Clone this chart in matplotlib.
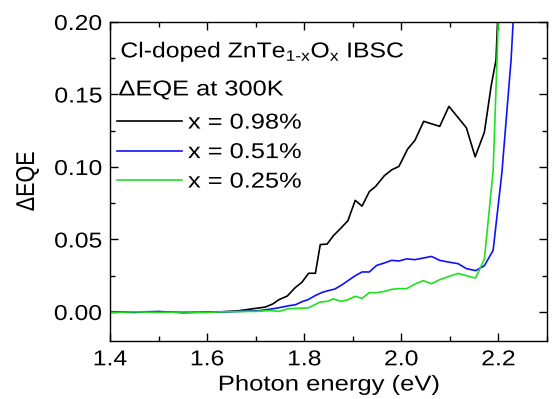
import matplotlib
matplotlib.use("Agg")
import matplotlib.pyplot as plt
import numpy as np
from matplotlib.ticker import MultipleLocator
from matplotlib.patheffects import AbstractPathEffect
from matplotlib.transforms import Affine2D

plt.rcParams['font.family'] = ['Liberation Sans', 'DejaVu Sans']
plt.rcParams['mathtext.fontset'] = 'custom'
plt.rcParams['mathtext.rm'] = 'Liberation Sans'
plt.rcParams['mathtext.it'] = 'Liberation Sans'

# photon energy (eV) and delta EQE
x_098 = [1.40, 1.45, 1.50, 1.55, 1.60, 1.63, 1.666, 1.70, 1.72, 1.735, 1.748, 1.765,
         1.782, 1.795, 1.809, 1.823, 1.833, 1.847, 1.860, 1.876, 1.890, 1.905,
         1.919, 1.934, 1.947, 1.965, 1.980, 1.995, 2.013, 2.028, 2.046, 2.079,
         2.098, 2.117, 2.134, 2.152, 2.171, 2.185, 2.195, 2.205]
y_098 = [0.0, -0.0003, 0.0002, -0.0004, -0.0002, 0.0001, 0.0009, 0.0025, 0.0034, 0.0055,
         0.0085, 0.011, 0.0170, 0.0204, 0.0267, 0.0267, 0.0465, 0.0468, 0.0526,
         0.058, 0.063, 0.077, 0.073, 0.083, 0.0866, 0.094, 0.098, 0.1004,
         0.1124, 0.1184, 0.1315, 0.128, 0.1418, 0.134, 0.127, 0.107, 0.124,
         0.156, 0.174, 0.26]

x_051 = [1.40, 1.45, 1.50, 1.55, 1.60, 1.65, 1.707, 1.741, 1.768, 1.782, 1.796,
         1.808, 1.823, 1.837, 1.850, 1.863, 1.878, 1.891, 1.905, 1.919, 1.934,
         1.949, 1.965, 1.980, 1.995, 2.011, 2.028, 2.045, 2.062, 2.079, 2.096,
         2.117, 2.134, 2.153, 2.171, 2.189, 2.207, 2.226, 2.24]
y_051 = [0.0002, 0.0, 0.0003, -0.0003, 0.0001, 0.0002, 0.0009, 0.0025, 0.0043, 0.0050,
         0.0072, 0.0085, 0.0114, 0.0135, 0.0148, 0.0158, 0.0188, 0.0218, 0.025,
         0.0276, 0.0276, 0.0321, 0.0338, 0.0356, 0.0352, 0.0366, 0.0361, 0.0372,
         0.0383, 0.0356, 0.0345, 0.0333, 0.0299, 0.0285, 0.0319, 0.0425, 0.0959,
         0.174, 0.26]

x_025 = [1.40, 1.45, 1.50, 1.55, 1.60, 1.65, 1.70, 1.73, 1.748, 1.768, 1.808,
         1.833, 1.847, 1.860, 1.876, 1.890, 1.905, 1.919, 1.934, 1.949, 1.965,
         1.980, 1.995, 2.011, 2.028, 2.045, 2.062, 2.079, 2.096, 2.117, 2.134,
         2.153, 2.171, 2.189, 2.197, 2.205]
y_025 = [-0.0004, 0.0001, -0.0003, 0.0, -0.0002, 0.0003, 0.0004, 0.0010, 0.0004, 0.0023,
         0.0028, 0.0069, 0.0073, 0.009, 0.0073, 0.0085, 0.0108, 0.0094, 0.0133,
         0.0133, 0.0142, 0.0156, 0.0161, 0.0161, 0.0193, 0.0216, 0.0195, 0.0223,
         0.0243, 0.0266, 0.025, 0.0234, 0.0366, 0.097, 0.174, 0.26]

labels = ['x = 0.98%', 'x = 0.51%', 'x = 0.25%']
colors = ['black', '#1010ff', '#20e020']
fs = 15.5


class HStretch(AbstractPathEffect):
    # the reference text is wider than Arial, stretch it sideways in pixel space
    def __init__(self, sx=1.2, anchor=0.0):
        super().__init__()
        self.sx = sx
        self.anchor = anchor

    def draw_path(self, renderer, gc, tpath, affine, rgbFace=None):
        ext = tpath.get_extents(affine)
        cx = ext.x0 + self.anchor * ext.width
        t = affine + Affine2D().translate(-cx, 0).scale(self.sx, 1).translate(cx, 0)
        renderer.draw_path(gc, tpath, t, rgbFace)


fig = plt.figure(figsize=(5.54, 3.99), dpi=100)
ax = fig.add_axes([0.1986, 0.1454, 0.7888, 0.7995])

for xs, ys, lab, c in zip([x_098, x_051, x_025], [y_098, y_051, y_025], labels, colors):
    ax.plot(xs, ys, color=c, lw=1.2, label=lab)

ax.set_xlim(1.4, 2.3)
ax.set_ylim(-0.02, 0.2)
ax.xaxis.set_major_locator(MultipleLocator(0.2))
ax.xaxis.set_minor_locator(MultipleLocator(0.1))
ax.yaxis.set_major_locator(MultipleLocator(0.05))
ax.yaxis.set_minor_locator(MultipleLocator(0.025))
ax.yaxis.set_major_formatter(plt.FormatStrFormatter('%.2f'))
ax.xaxis.set_major_formatter(plt.FormatStrFormatter('%.1f'))
ax.tick_params(which='both', direction='in', top=True, right=True, labelsize=fs)
ax.tick_params(axis='y', pad=5.5)
ax.tick_params(axis='x', pad=6)
ax.tick_params(which='major', length=6, width=1)
ax.tick_params(which='minor', length=3.5, width=1)
for s in ax.spines.values():
    s.set_linewidth(1)

ax.set_xlabel('Photon energy (eV)', fontsize=fs)
ax.xaxis.set_label_coords(0.5, -0.138)
ax.xaxis.label.set_va('center')
ax.xaxis.label.set_path_effects([HStretch(1.19, 0.5)])
ax.set_ylabel('\u0394EQE', fontsize=fs)
ax.yaxis.set_label_coords(-0.189, 0.5)
ax.yaxis.label.set_va('center')
ax.yaxis.label.set_path_effects([HStretch(1.2, 0.5)])

t1 = ax.text(0.024, 0.906, r'Cl-doped ZnTe$_{\mathrm{1\text{-}x}}$O$_{\mathrm{x}}$ IBSC',
             transform=ax.transAxes, fontsize=fs, va='center')
t2 = ax.text(0.0195, 0.787, '\u0394EQE at 300K', transform=ax.transAxes, fontsize=fs,
             va='center')
t1.set_path_effects([HStretch(1.15, 0.0)])
t2.set_path_effects([HStretch(1.18, 0.0)])

leg = ax.legend(loc='upper left', bbox_to_anchor=(0.0149, 0.716), frameon=False, fontsize=fs,
                handlelength=3.02, handletextpad=0.3, labelspacing=0.395,
                borderpad=0, borderaxespad=0)
for t in leg.get_texts():
    t.set_path_effects([HStretch(1.18, 0.0)])

fig.canvas.draw()
for t in ax.get_xticklabels():
    t.set_path_effects([HStretch(1.15, 0.5)])
for t in ax.get_yticklabels():
    t.set_path_effects([HStretch(1.15, 1.0)])

fig.savefig('out.png', dpi=100)
